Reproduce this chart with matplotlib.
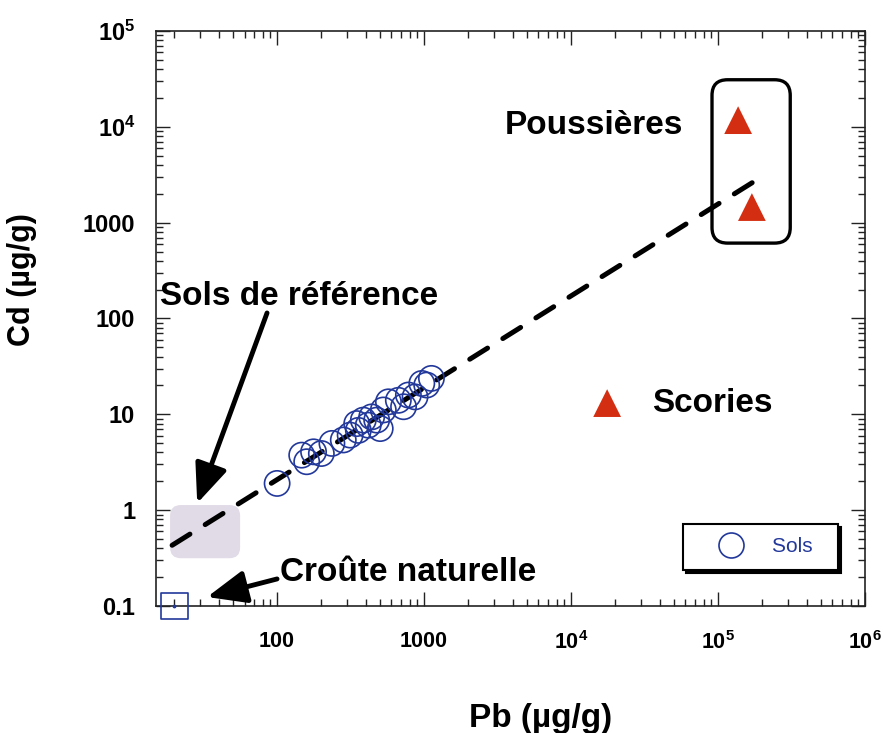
import numpy as np
import matplotlib
matplotlib.use('Agg')
import matplotlib.pyplot as plt
import matplotlib.patches as mpatches
from matplotlib.ticker import FuncFormatter, LogLocator

plt.rcParams['font.family'] = ['Liberation Sans', 'DejaVu Sans']
plt.rcParams['font.weight'] = 'bold'
plt.rcParams['mathtext.fontset'] = 'custom'
plt.rcParams['mathtext.rm'] = 'Liberation Sans:bold'
plt.rcParams['mathtext.bf'] = 'Liberation Sans:bold'

# Sols (Pb, Cd en µg/g)
solsPb = [100, 147, 159, 177, 200, 236, 282, 314, 348, 357, 386, 417, 440,
          476, 503, 528, 572, 668, 725, 782, 868, 965, 1042, 1122]
solsCd = [1.9, 3.75, 3.2, 4.06, 3.9, 4.97, 5.4, 6.07, 8.0, 6.8, 8.7, 7.7, 9.4,
          8.7, 7.1, 11.1, 13.5, 14.0, 12.0, 15.9, 15.2, 21.0, 20.2, 23.7]

# Poussières et scories
poussieresPb = [1.37e5, 1.7e5]
poussieresCd = [11750, 1455]
scoriesPb = [1.76e4]
scoriesCd = [13.1]

# Croûte naturelle
croutePb = [20]
crouteCd = [0.1]

# Zone des sols de référence et cadre des poussières (min, max)
refPbRange = [18.7, 56]
refCdRange = [0.315, 1.13]
cadrePbRange = [9.1e4, 3.1e5]
cadreCdRange = [612, 3.1e4]

# Droite de tendance (extrémités)
tendancePb = [19.3, 1.87e5]
tendanceCd = [0.43, 2850]

xLimites = [15, 1e6]
yLimites = [0.1, 1e5]

bleu = '#22389a'
rouge = '#d42e12'


def formatTick(valeur, pos):
    """Labels 0.1, 1, 10, 100, 1000 puis puissances de 10"""
    exposant = int(round(np.log10(valeur)))
    if exposant < 0:
        return '0.1'
    if exposant <= 3:
        return str(int(round(valeur)))
    return r'$\mathbf{10^{%d}}$' % exposant


def versAxes(ax, xs, ys):
    """Convertit des coordonnées de données en fraction d'axes"""
    pts = ax.transData.transform(np.column_stack([xs, ys]))
    return ax.transAxes.inverted().transform(pts)


def cadreArrondi(ax, xs, ys, rayon, **kwargs):
    coins = versAxes(ax, xs, ys)
    (x0, y0), (x1, y1) = coins
    aspect = ax.bbox.width / ax.bbox.height
    patch = mpatches.FancyBboxPatch(
        (x0, y0), x1 - x0, y1 - y0,
        boxstyle='round,pad=0,rounding_size=%f' % rayon,
        mutation_aspect=aspect, transform=ax.transAxes, **kwargs)
    ax.add_patch(patch)


fig = plt.figure(figsize=(8.84, 7.33), dpi=100)
ax = fig.add_axes([0.1765, 0.1733, 0.802, 0.7844])
ax.set_xscale('log')
ax.set_yscale('log')
ax.set_xlim(xLimites)
ax.set_ylim(yLimites)

# zone grise des sols de référence
cadreArrondi(ax, refPbRange, refCdRange, 0.015, facecolor='#e1dae7',
             edgecolor='none', zorder=1)

# droite de tendance
ax.plot(tendancePb, tendanceCd, color='black', lw=3.6,
        linestyle=(0, (4.2, 3.6)), dash_capstyle='round', zorder=2)

# sols
ax.scatter(solsPb, solsCd, s=330, facecolors='none', edgecolors=bleu,
           linewidths=1.2, zorder=3)

# poussières et scories
ax.scatter(poussieresPb, poussieresCd, s=400, marker='^', color=rouge,
           edgecolors='none', zorder=3)
ax.scatter(scoriesPb, scoriesCd, s=400, marker='^', color=rouge,
           edgecolors='none', zorder=3)

# croûte naturelle
ax.scatter(croutePb, crouteCd, s=370, marker='s', facecolors='none',
           edgecolors=bleu, linewidths=1.2, zorder=5, clip_on=False)
ax.scatter(croutePb, crouteCd, s=3, color=bleu, zorder=5, clip_on=False)

# cadre des poussières
cadreArrondi(ax, cadrePbRange, cadreCdRange, 0.022, facecolor='none',
             edgecolor='black', lw=2.4, zorder=4)

# textes et flèches
ax.text(0.6178, 0.8365, 'Poussières', transform=ax.transAxes, fontsize=24,
        ha='center', va='center')
ax.text(0.6996, 0.353, 'Scories', transform=ax.transAxes, fontsize=24,
        ha='left', va='center')
ax.text(0.0056, 0.539, 'Sols de référence', transform=ax.transAxes,
        fontsize=24, ha='left', va='center')
ax.text(0.175, 0.059, 'Croûte naturelle', transform=ax.transAxes,
        fontsize=24, ha='left', va='center')

flecheStyle = dict(arrowstyle='-|>,head_length=1.2,head_width=0.5',
                   mutation_scale=20, lw=3.5, color='black',
                   shrinkA=0, shrinkB=0)
ax.annotate('', xy=(28.6, 1.18), xycoords='data',
            xytext=(0.1566, 0.5096), textcoords='axes fraction',
            arrowprops=flecheStyle, zorder=6)
ax.annotate('', xy=(33.4, 0.124), xycoords='data',
            xytext=(0.1707, 0.047), textcoords='axes fraction',
            arrowprops=flecheStyle, zorder=6, annotation_clip=False)

# légende
poignee = plt.Line2D([], [], marker='o', ls='none', markersize=18,
                     markerfacecolor='none', markeredgecolor=bleu,
                     markeredgewidth=1.2)
leg = ax.legend([poignee], ['Sols  '], loc='lower right',
                bbox_to_anchor=(0.962, 0.0626), borderaxespad=0,
                prop={'size': 15, 'weight': 'normal'}, labelcolor=bleu,
                fancybox=False, framealpha=1, edgecolor='black',
                shadow={'color': 'black', 'alpha': 1},
                borderpad=0.65, handlelength=3.3, handletextpad=0.35)
leg.get_frame().set_linewidth(1.5)

# axes
fmt = FuncFormatter(formatTick)
ax.xaxis.set_major_formatter(fmt)
ax.yaxis.set_major_formatter(fmt)
ax.xaxis.set_minor_locator(LogLocator(base=10, subs=np.arange(2, 10)))
ax.yaxis.set_minor_locator(LogLocator(base=10, subs=np.arange(2, 10)))
ax.xaxis.set_minor_formatter(FuncFormatter(lambda v, p: ''))
ax.yaxis.set_minor_formatter(FuncFormatter(lambda v, p: ''))
ax.tick_params(which='both', direction='in', top=True, right=True,
               width=1, color='#222222')
ax.tick_params(which='major', length=10)
ax.tick_params(which='minor', length=5)
ax.tick_params(axis='x', which='major', labelsize=15.5, pad=18)
ax.tick_params(axis='y', which='major', labelsize=17, pad=15)
for spine in ax.spines.values():
    spine.set_linewidth(1.2)
    spine.set_color('#222222')

ax.set_xlabel('Pb (µg/g)', fontsize=24, fontweight='bold')
ax.xaxis.set_label_coords(0.542, -0.169)
ax.set_ylabel('Cd (µg/g)', fontsize=22, fontweight='bold')
ax.yaxis.set_label_coords(-0.168, 0.567)

fig.savefig('out.png', dpi=100, facecolor='white')
